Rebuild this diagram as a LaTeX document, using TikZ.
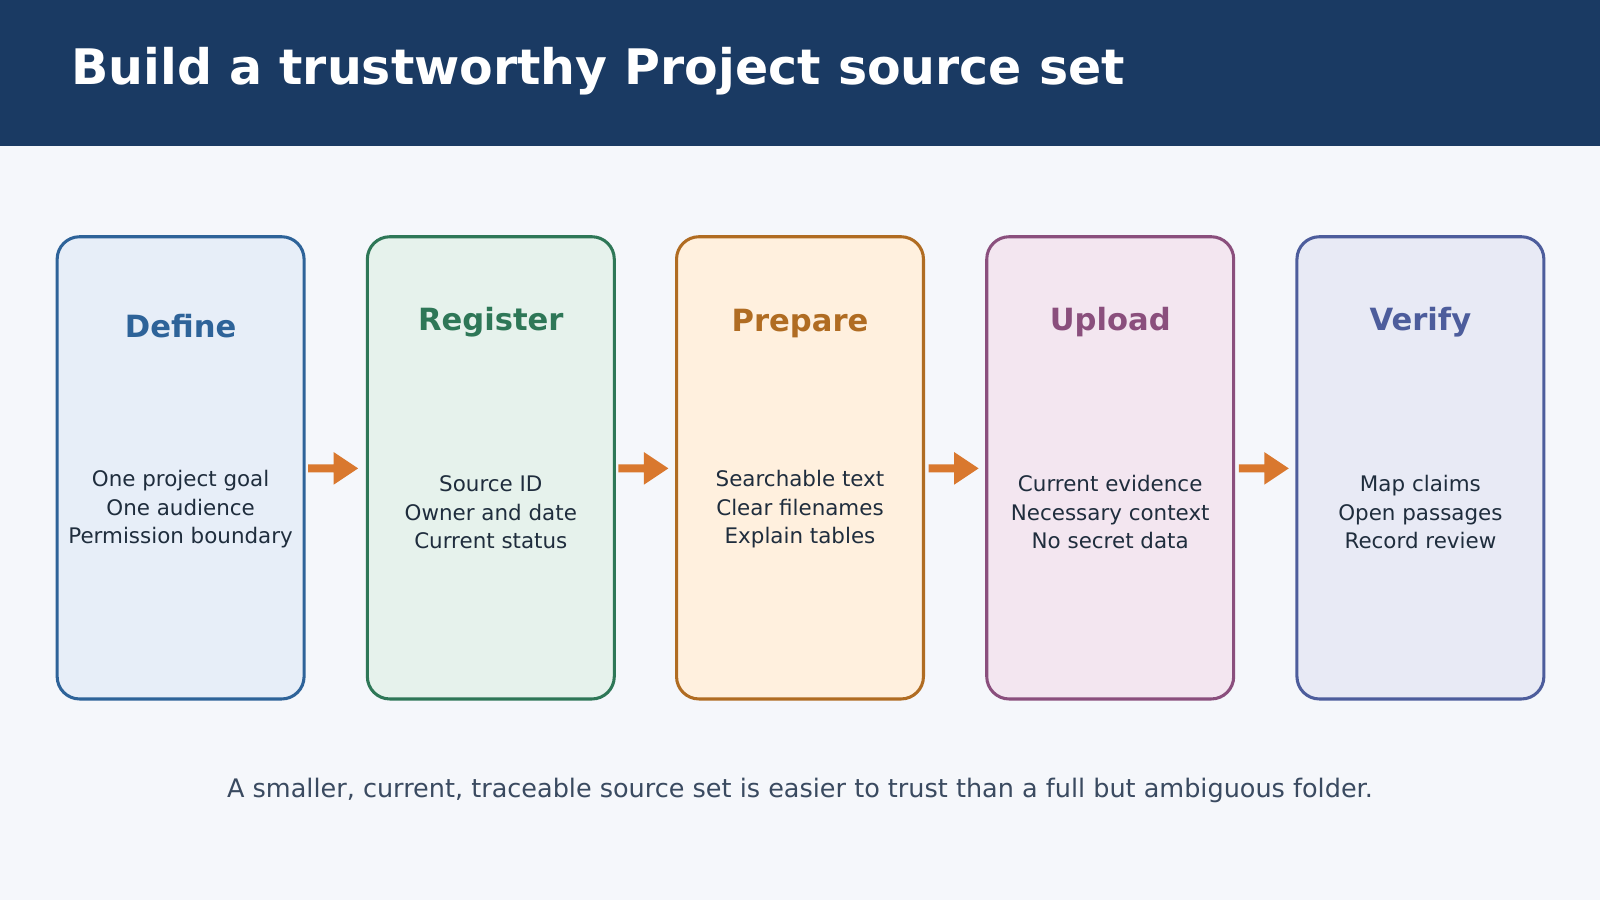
\documentclass[tikz,border=0pt]{standalone}
\usepackage{fontspec}
\setmainfont{DejaVu Sans}
\begin{document}
\begin{tikzpicture}[x=0.5pt,y=-0.5pt,
  box/.style={draw=#1,line width=1.5pt,rounded corners=11pt},
  ttl/.style={font=\bfseries\fontsize{15}{18}\selectfont,text=#1},
  body/.style={font=\fontsize{10.5}{14}\selectfont,text=bodyc,align=center},
  arr/.style={fill=arrc}]
\definecolor{hdr}{HTML}{1A3A63}\definecolor{bg}{HTML}{F5F7FB}
\definecolor{bodyc}{HTML}{1F2D3D}\definecolor{foot}{HTML}{3A4A60}
\definecolor{arrc}{HTML}{D9782E}
\definecolor{sA}{HTML}{2E6399}\definecolor{fA}{HTML}{E7EEF8}
\definecolor{sB}{HTML}{2E7757}\definecolor{fB}{HTML}{E6F2EC}
\definecolor{sC}{HTML}{B06C22}\definecolor{fC}{HTML}{FFF0DE}
\definecolor{sD}{HTML}{8A4F7D}\definecolor{fD}{HTML}{F3E6F0}
\definecolor{sE}{HTML}{4D5D9C}\definecolor{fE}{HTML}{E8EAF5}
\useasboundingbox (0,0) rectangle (1568,882);
\fill[bg] (0,0) rectangle (1568,882);
\fill[hdr] (0,0) rectangle (1568,143);
\node[anchor=west,text=white,font=\bfseries\fontsize{24}{28}\selectfont] (title) at (63,70) {Build a trustworthy Project source set};
\foreach \i/\x/\s/\f/\t/\ty/\b/\by in {
 1/56/sA/fA/Define/320/{One project goal\\One audience\\Permission boundary}/499,
 2/360/sB/fB/Register/316/{Source ID\\Owner and date\\Current status}/502,
 3/663/sC/fC/Prepare/317/{Searchable text\\Clear filenames\\Explain tables}/499,
 4/967/sD/fD/Upload/316/{Current evidence\\Necessary context\\No secret data}/502,
 5/1271/sE/fE/Verify/316/{Map claims\\Open passages\\Record review}/502}{
  \filldraw[box=\s,fill=\f] (\x,232) rectangle ++(242,453);
  \node[ttl=\s] (t\i) at (\x+121,\ty) {\t};
  \node[body] (b\i) at (\x+121,\by) {\b};
}
\foreach \x in {302,606,910,1214}{
  \fill[arr] (\x,455) -- (\x+25,455) -- (\x+25,443) -- (\x+49,459) -- (\x+25,475) -- (\x+25,463) -- (\x,463) -- cycle;
}
\node[text=foot,font=\fontsize{12.5}{15}\selectfont] (footer) at (784,775) {A smaller, current, traceable source set is easier to trust than a full but ambiguous folder.};
\end{tikzpicture}
\end{document}
